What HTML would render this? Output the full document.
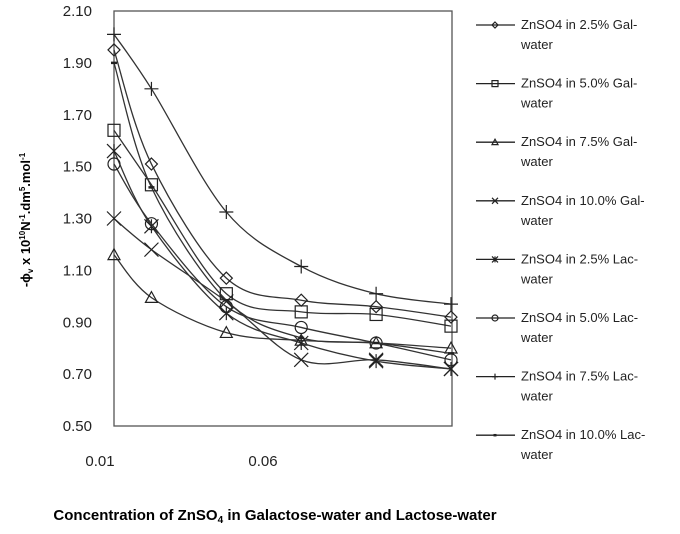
<!DOCTYPE html>
<html><head><meta charset="utf-8"><style>
body{margin:0;background:#fff;}
svg{display:block;font-family:"Liberation Sans",sans-serif;}
</style></head><body>
<svg id="chart" width="680" height="534" viewBox="0 0 680 534">
<rect x="114" y="11" width="338" height="415" fill="none" stroke="#555" stroke-width="1.3"/>
<g id="yticks"></g>
<g id="xticks"></g>
<g id="series"></g>
<g id="legend"></g>
<text transform="translate(30,220) rotate(-90)" text-anchor="middle" font-size="13" font-weight="bold">-ϕ<tspan font-size="8" dy="3">v</tspan><tspan dy="-3"> x 10</tspan><tspan font-size="8" dy="-5">10</tspan><tspan dy="5">N</tspan><tspan font-size="8" dy="-5">-1</tspan><tspan dy="5">.dm</tspan><tspan font-size="8" dy="-5">5</tspan><tspan dy="5">.mol</tspan><tspan font-size="8" dy="-5">-1</tspan></text>
<text x="275" y="520" text-anchor="middle" font-size="15" font-weight="bold">Concentration of ZnSO<tspan font-size="10" dy="3">4</tspan><tspan dy="-3"> in Galactose-water and Lactose-water</tspan></text>
</svg>
<script>
const xValues=[0.01,0.02,0.04,0.06,0.08,0.10];
const yTickLabels=["0.50","0.70","0.90","1.10","1.30","1.50","1.70","1.90","2.10"];
const xTickLabels=["0.01","0.06"];
const seriesNames=["ZnSO4 in 2.5% Gal-","ZnSO4 in 5.0% Gal-","ZnSO4 in 7.5% Gal-","ZnSO4 in 10.0% Gal-","ZnSO4 in 2.5% Lac-","ZnSO4 in 5.0% Lac-","ZnSO4 in 7.5% Lac-","ZnSO4 in 10.0% Lac-"];
const markers=["diamond","square","triangle","x","star","circle","plus","dash"];
const gal25=[1.95,1.51,1.07,0.985,0.96,0.92];
const gal50=[1.64,1.43,1.01,0.94,0.93,0.885];
const gal75=[1.16,0.995,0.86,0.83,0.82,0.80];
const gal100=[1.30,1.18,0.98,0.755,0.755,0.72];
const lac25=[1.56,1.27,0.935,0.82,0.75,0.72];
const lac50=[1.51,1.28,0.96,0.88,0.82,0.755];
const lac75=[2.01,1.80,1.325,1.115,1.01,0.97];
const lac100=[1.90,1.42,0.985,0.84,0.82,0.78];
const allSeries=[gal25,gal50,gal75,gal100,lac25,lac50,lac75,lac100];
const NS="http://www.w3.org/2000/svg";
function X(v){return 114+(v-0.01)/0.09*337;}
function Y(v){return 426-(v-0.5)/1.6*415;}
function labelX(v){return 100+(v-0.01)/0.05*163;}
function mk(tag,attrs,parent){const e=document.createElementNS(NS,tag);for(const k in attrs)e.setAttribute(k,attrs[k]);parent.appendChild(e);return e;}
const yt=document.getElementById('yticks');
yTickLabels.forEach(t=>{const e=mk('text',{x:92,y:Y(parseFloat(t))+5,'text-anchor':'end','font-size':15,fill:'#222'},yt);e.textContent=t;

});
const xt=document.getElementById('xticks');
xTickLabels.forEach(t=>{const e=mk('text',{x:labelX(parseFloat(t)),y:466,'text-anchor':'middle','font-size':15,fill:'#222'},xt);e.textContent=t;

});
function drawMarker(type,x,y,g,s){
 const st={fill:'none',stroke:'#222','stroke-width':1.2};
 let e;
 if(type==='diamond')e=mk('path',Object.assign({d:`M${x} ${y-s}L${x+s} ${y}L${x} ${y+s}L${x-s} ${y}Z`},st),g);
 else if(type==='square')e=mk('rect',Object.assign({x:x-s,y:y-s,width:2*s,height:2*s},st),g);
 else if(type==='triangle')e=mk('path',Object.assign({d:`M${x} ${y-s}L${x+s} ${y+s*0.8}L${x-s} ${y+s*0.8}Z`},st),g);
 else if(type==='x')e=mk('path',Object.assign({d:`M${x-s} ${y-s}L${x+s} ${y+s}M${x-s} ${y+s}L${x+s} ${y-s}`},st),g);
 else if(type==='star')e=mk('path',Object.assign({d:`M${x-s} ${y-s}L${x+s} ${y+s}M${x-s} ${y+s}L${x+s} ${y-s}M${x} ${y-s}L${x} ${y+s}`},st),g);
 else if(type==='circle')e=mk('circle',Object.assign({cx:x,cy:y,r:s},st),g);
 else if(type==='plus')e=mk('path',Object.assign({d:`M${x-s} ${y}L${x+s} ${y}M${x} ${y-s}L${x} ${y+s}`},st),g);
 else e=mk('path',Object.assign({d:`M${x-s*0.5} ${y}L${x+s*0.5} ${y}`},st,{'stroke-width':2.5}),g);
 
 
}
function smooth(pts){let d=`M${pts[0][0]} ${pts[0][1]}`;for(let i=0;i<pts.length-1;i++){const p0=pts[i-1]||pts[i],p1=pts[i],p2=pts[i+1],p3=pts[i+2]||p2;const t=6;
d+=`C${p1[0]+(p2[0]-p0[0])/t} ${p1[1]+(p2[1]-p0[1])/t} ${p2[0]-(p3[0]-p1[0])/t} ${p2[1]-(p3[1]-p1[1])/t} ${p2[0]} ${p2[1]}`;}return d;}
const sg=document.getElementById('series');
allSeries.forEach((vals,si)=>{
 const g=mk('g',{},sg);
 
 
 const pts=vals.map((v,i)=>[X(xValues[i]),Y(v)]);
 const p=mk('path',{d:smooth(pts),fill:'none',stroke:'#333','stroke-width':1.3},g);
 
 
 const s=markers[si]==='plus'||markers[si]==='star'||markers[si]==='x'?7:6;
 pts.forEach(q=>drawMarker(markers[si],q[0],q[1],g,s));
});
const lg=document.getElementById('legend');
seriesNames.forEach((n,i)=>{
 const y=25+i*58.6;
 const g=mk('g',{},lg);
 
 
 mk('line',{x1:476,y1:y,x2:515,y2:y,stroke:'#222','stroke-width':1.3},g);
 drawMarker(markers[i],495,y,g,3);
 const t=mk('text',{x:521,y:y+4,'font-size':13,fill:'#222'},g);t.textContent=n;
 const t2=mk('text',{x:521,y:y+24,'font-size':13,fill:'#222'},g);t2.textContent='water';
});
</script>
</body></html>
